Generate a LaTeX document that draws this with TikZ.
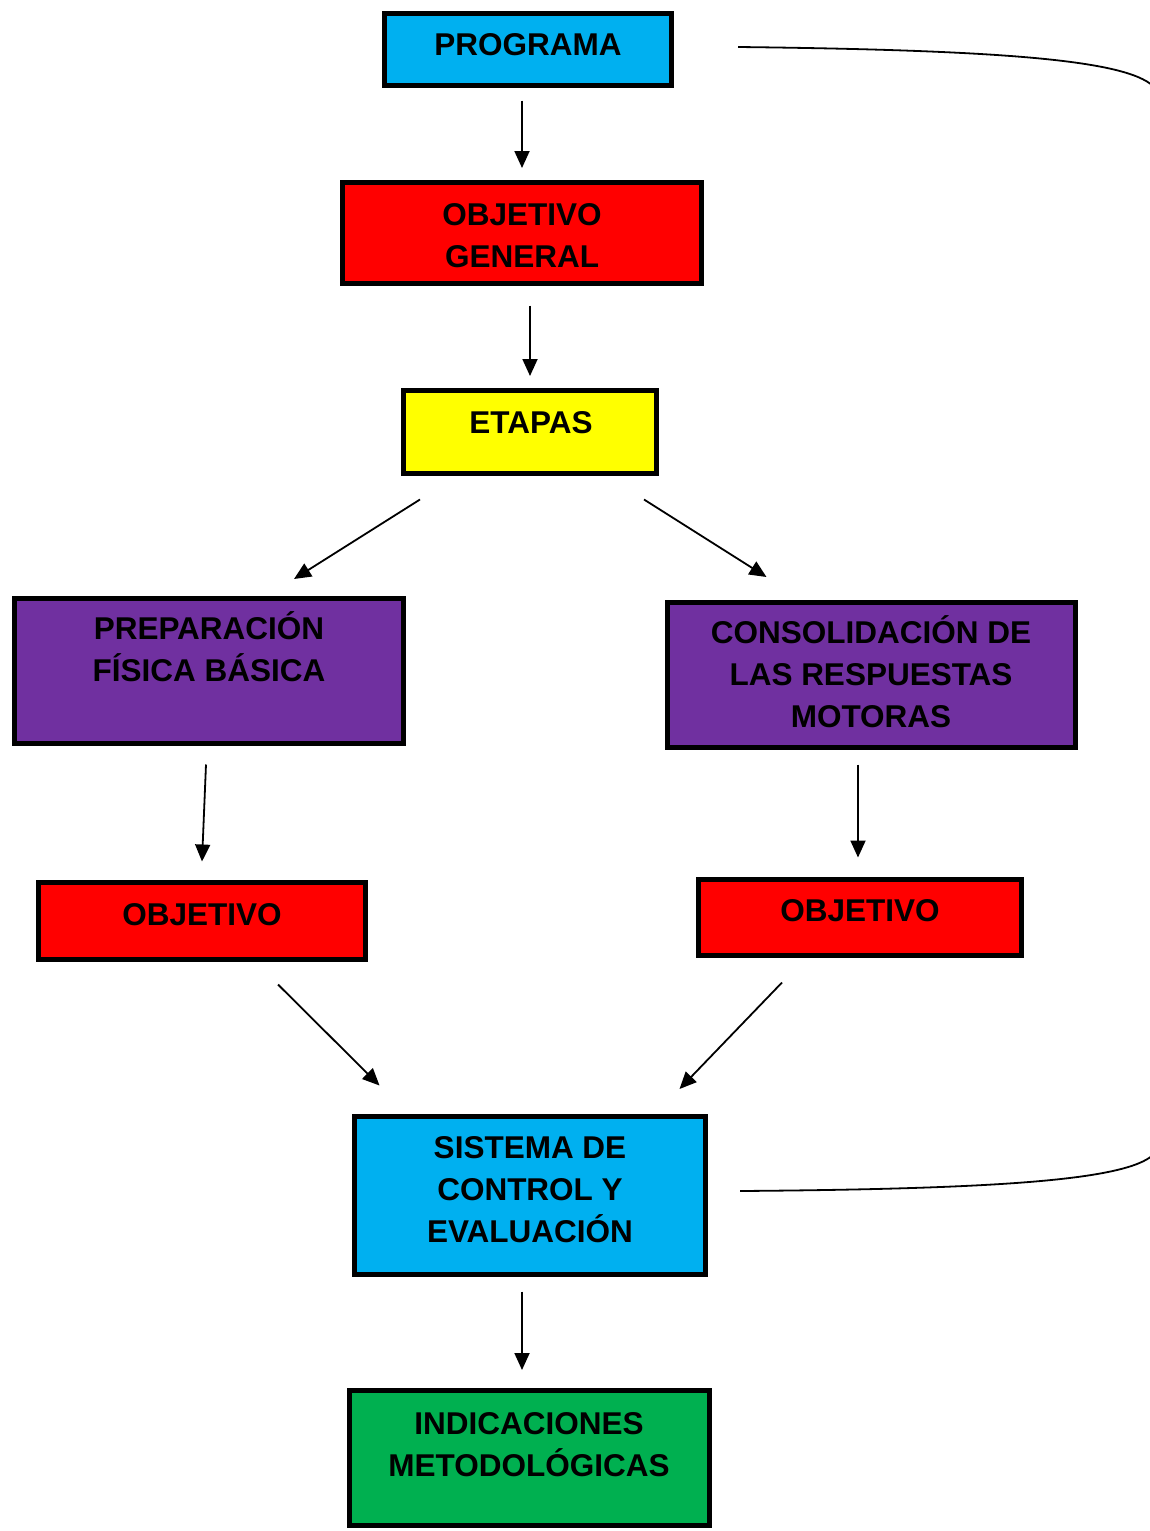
\documentclass[tikz,border=0pt]{standalone}
\usepackage{xcolor}
\usepackage{fontspec}
\setmainfont{Liberation Sans}
\usepackage{tikz}
\usetikzlibrary{arrows.meta, positioning}

\definecolor{cyanbox}{HTML}{00B0F0}
\definecolor{redbox}{HTML}{FF0000}
\definecolor{yellowbox}{HTML}{FFFF00}
\definecolor{purplebox}{HTML}{7030A0}
\definecolor{greenbox}{HTML}{00B050}

\begin{document}
\begin{tikzpicture}[
    x=1pt, y=-1pt,
    box/.style={rectangle, draw, line width=5pt, inner sep=0pt},
    lbl/.style={anchor=base, align=center, inner sep=0pt, font=\fontsize{31.5}{42}\selectfont\bfseries},
    arr/.style={-{Triangle[length=17pt, width=15pt]}, line width=1.8pt},
    link/.style={line width=1.8pt},
]
    \useasboundingbox (0,0) rectangle (1150,1531);

    % boxes
    \node[box, fill=cyanbox, minimum width=287pt, minimum height=72pt] (prog) at (528,49.5) {};
    \node[box, fill=redbox, minimum width=359pt, minimum height=101pt] (obg) at (522,233) {};
    \node[box, fill=yellowbox, minimum width=253pt, minimum height=83pt] (etapas) at (530,432) {};
    \node[box, fill=purplebox, minimum width=389pt, minimum height=145pt] (prep) at (209,671) {};
    \node[box, fill=purplebox, minimum width=408pt, minimum height=145pt] (cons) at (871.5,675) {};
    \node[box, fill=redbox, minimum width=327pt, minimum height=77pt] (objl) at (202,921) {};
    \node[box, fill=redbox, minimum width=323pt, minimum height=76pt] (objr) at (860,917.5) {};
    \node[box, fill=cyanbox, minimum width=351pt, minimum height=158pt] (sist) at (530,1195.5) {};
    \node[box, fill=greenbox, minimum width=360pt, minimum height=135pt] (ind) at (529.5,1458) {};

    % texts (base = last line)
    \node[lbl] (progt) at (528,55) {PROGRAMA};
    \node[lbl] (obgt) at (522,267) {OBJETIVO\\GENERAL};
    \node[lbl] (etapast) at (531,433) {ETAPAS};
    \node[lbl] (prept) at (209,681) {PREPARACIÓN\\FÍSICA BÁSICA};
    \node[lbl] (const) at (871,727) {CONSOLIDACIÓN DE\\LAS RESPUESTAS\\MOTORAS};
    \node[lbl] (objlt) at (202,925) {OBJETIVO};
    \node[lbl] (objrt) at (860,921) {OBJETIVO};
    \node[lbl] (sistt) at (530,1242) {SISTEMA DE\\CONTROL Y\\EVALUACIÓN};
    \node[lbl] (indt) at (529,1476) {INDICACIONES\\METODOLÓGICAS};

    % arrows
    \draw[arr] ([xshift=-6pt, yshift=-12.5pt]prog.south) -- ([yshift=12pt]obg.north);
    \draw[arr] ([xshift=8pt, yshift=-19.5pt]obg.south) -- ([yshift=12pt]etapas.north);
    \draw[arr] ([xshift=-110pt, yshift=-23.5pt]etapas.south) -- ([xshift=85pt, yshift=17pt]prep.north);
    \draw[arr] ([xshift=114pt, yshift=-23.5pt]etapas.south) -- ([xshift=-105pt, yshift=23pt]cons.north);
    \draw[arr] ([xshift=-3pt, yshift=-18.5pt]prep.south) -- ([yshift=18.5pt]objl.north);
    \draw[arr] ([xshift=-13.5pt, yshift=-14.5pt]cons.south) -- ([xshift=-2pt, yshift=19.5pt]objr.north);
    \draw[arr] ([xshift=76pt, yshift=-22.5pt]objl.south) -- ([xshift=-150.5pt, yshift=28.5pt]sist.north);
    \draw[arr] ([xshift=-78pt, yshift=-24.5pt]objr.south) -- ([xshift=149.5pt, yshift=25pt]sist.north);
    \draw[arr] ([xshift=-8pt, yshift=-14.5pt]sist.south) -- ([xshift=-7.5pt, yshift=18pt]ind.north);

    % return curves running off the right edge
    \coordinate (rtop) at (1153,86);
    \coordinate (rbot) at (1153,1155);
    \draw[link] ([xshift=64pt, yshift=2.5pt]prog.east) .. controls (1000,50) and (1125,60) .. (rtop);
    \draw[link] ([xshift=32pt, yshift=4.5pt]sist.east) .. controls (1000,1189) and (1125,1180) .. (rbot);
\end{tikzpicture}
\end{document}
